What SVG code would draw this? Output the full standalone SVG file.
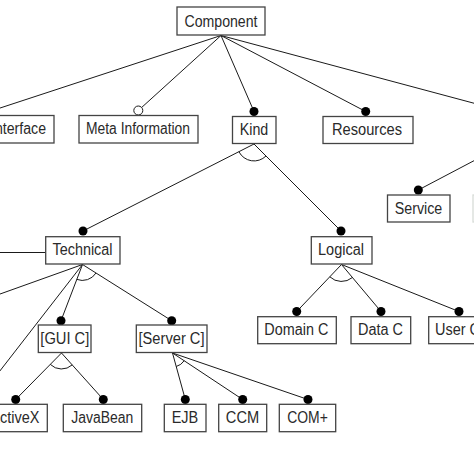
<svg xmlns="http://www.w3.org/2000/svg" width="474" height="474" viewBox="0 0 474 474">
<style>
.box{fill:#fff;stroke:#444;stroke-width:1.3}
.lbl{font-family:"Liberation Sans",Arial,sans-serif;font-size:16px;fill:#2a2a2a;text-anchor:middle}
.ln{stroke:#1a1a1a;stroke-width:1;fill:none}
.dot{fill:#000}
.odot{fill:#fff;stroke:#1a1a1a;stroke-width:1}
</style>
<rect width="474" height="474" fill="#fff"/>
<g id="connectors">
<path class="ln" d="M221 35.5 L-9 111 M221 35.5 L138.3 110.5 M221 35.5 L254 111.5 M221 35.5 L365.7 111.5 M221 35.5 L500 110.2"/>
<path class="ln" d="M418.3 190 L500 147"/>
<path class="ln" d="M254 144 L83 231 M254 144 L341 231"/>
<path class="ln" d="M238.9 151.7 A17 17 0 0 0 266 156"/>
<path class="ln" d="M82.5 264.5 L-10 297.6 M82.5 264.5 L-5.2 377.5 M82.5 264.5 L61 320.7 M82.5 264.5 L171.7 320.7"/>
<path class="ln" d="M0 252.5 L45.7 252.5"/>
<path class="ln" d="M76.8 279.4 A16 16 0 0 0 96 273"/>
<path class="ln" d="M341.5 264.5 L296.7 311.5 M341.5 264.5 L381 311.5 M341.5 264.5 L459 311.5"/>
<path class="ln" d="M329.8 276.8 A17 17 0 0 0 352.4 277.5"/>
<path class="ln" d="M61.5 353 L15.7 399.5 M61.5 353 L103.3 399.5"/>
<path class="ln" d="M50.3 364.4 A16 16 0 0 0 72.2 364.9"/>
<path class="ln" d="M172.5 353 L185.3 399.5 M172.5 353 L242.7 399.5 M172.5 353 L308 399.5"/>
<path class="ln" d="M176.2 366.5 A14 14 0 0 0 184.2 360.7"/>
</g>
<g id="component"><rect class="box" x="177" y="7" width="88" height="28"/><text class="lbl" x="221" y="27" textLength="73" lengthAdjust="spacingAndGlyphs">Component</text></g>
<g id="interface"><rect class="box" x="-17" y="115.5" width="71" height="27.5"/><text class="lbl" x="18.5" y="133.5" textLength="55" lengthAdjust="spacingAndGlyphs">Interface</text></g>
<g id="meta"><circle class="odot" cx="138.3" cy="110.5" r="4.5"/><rect class="box" x="79" y="115.5" width="119" height="27.5"/><text class="lbl" x="138" y="133.5" textLength="104" lengthAdjust="spacingAndGlyphs">Meta Information</text></g>
<g id="kind"><circle class="dot" cx="254" cy="111.5" r="4.5"/><rect class="box" x="232.5" y="116.5" width="43.5" height="27"/><text class="lbl" x="254" y="134.5" textLength="28.5" lengthAdjust="spacingAndGlyphs">Kind</text></g>
<g id="resources"><circle class="dot" cx="365.7" cy="111.5" r="4.5"/><rect class="box" x="323" y="116.5" width="90" height="27"/><text class="lbl" x="367" y="134.5" textLength="70" lengthAdjust="spacingAndGlyphs">Resources</text></g>
<g id="service"><circle class="dot" cx="418.3" cy="190" r="4.5"/><rect class="box" x="387.5" y="195" width="62.5" height="27"/><text class="lbl" x="418.5" y="213.5" textLength="47.5" lengthAdjust="spacingAndGlyphs">Service</text></g>
<g id="edge-node"><rect x="473" y="195" width="30" height="27" fill="#fff" stroke="#d8dcd8" stroke-width="1.3"/></g>
<g id="technical"><circle class="dot" cx="83" cy="231" r="4.5"/><rect class="box" x="45.7" y="236.7" width="74.3" height="27.3"/><text class="lbl" x="82.5" y="255" textLength="60" lengthAdjust="spacingAndGlyphs">Technical</text></g>
<g id="logical"><circle class="dot" cx="341" cy="231" r="4.5"/><rect class="box" x="311.3" y="236.7" width="60.7" height="27.3"/><text class="lbl" x="341" y="255" textLength="46" lengthAdjust="spacingAndGlyphs">Logical</text></g>
<g id="guic"><circle class="dot" cx="61" cy="320.7" r="4.5"/><rect class="box" x="38.3" y="325" width="52.7" height="27.5"/><text class="lbl" x="64.8" y="344" textLength="49" lengthAdjust="spacingAndGlyphs">[GUI C]</text></g>
<g id="serverc"><circle class="dot" cx="171.7" cy="320.7" r="4.5"/><rect class="box" x="136.3" y="325" width="70.7" height="27.5"/><text class="lbl" x="171.5" y="344" textLength="66" lengthAdjust="spacingAndGlyphs">[Server C]</text></g>
<g id="domainc"><circle class="dot" cx="296.7" cy="311.5" r="4.5"/><rect class="box" x="257.7" y="316.7" width="78.6" height="27"/><text class="lbl" x="296.3" y="334.5" textLength="64" lengthAdjust="spacingAndGlyphs">Domain C</text></g>
<g id="datac"><circle class="dot" cx="381" cy="311.5" r="4.5"/><rect class="box" x="351" y="316.7" width="59.7" height="27"/><text class="lbl" x="380.5" y="334.5" textLength="45" lengthAdjust="spacingAndGlyphs">Data C</text></g>
<g id="userc"><circle class="dot" cx="459" cy="311.5" r="4.5"/><rect class="box" x="428.7" y="316.7" width="60" height="27"/><text class="lbl" x="457.5" y="334.5" textLength="45" lengthAdjust="spacingAndGlyphs">User C</text></g>
<g id="activex"><circle class="dot" cx="15.7" cy="399.5" r="4.5"/><rect class="box" x="-18" y="404.3" width="65.3" height="27.4"/><text class="lbl" x="14.8" y="422.7" textLength="49" lengthAdjust="spacingAndGlyphs">ActiveX</text></g>
<g id="javabean"><circle class="dot" cx="103.3" cy="399.5" r="4.5"/><rect class="box" x="63.3" y="404.3" width="78.4" height="27.4"/><text class="lbl" x="102.2" y="422.7" textLength="62" lengthAdjust="spacingAndGlyphs">JavaBean</text></g>
<g id="ejb"><circle class="dot" cx="185.3" cy="399.5" r="4.5"/><rect class="box" x="164.3" y="404.3" width="41.7" height="27.4"/><text class="lbl" x="185" y="422.7" textLength="26.6" lengthAdjust="spacingAndGlyphs">EJB</text></g>
<g id="ccm"><circle class="dot" cx="242.7" cy="399.5" r="4.5"/><rect class="box" x="218.7" y="404.3" width="48" height="27.4"/><text class="lbl" x="242.5" y="422.7" textLength="33.3" lengthAdjust="spacingAndGlyphs">CCM</text></g>
<g id="complus"><circle class="dot" cx="308" cy="399.5" r="4.5"/><rect class="box" x="279.3" y="404.3" width="56.4" height="27.4"/><text class="lbl" x="307.5" y="422.7" textLength="40.6" lengthAdjust="spacingAndGlyphs">COM+</text></g>
</svg>
